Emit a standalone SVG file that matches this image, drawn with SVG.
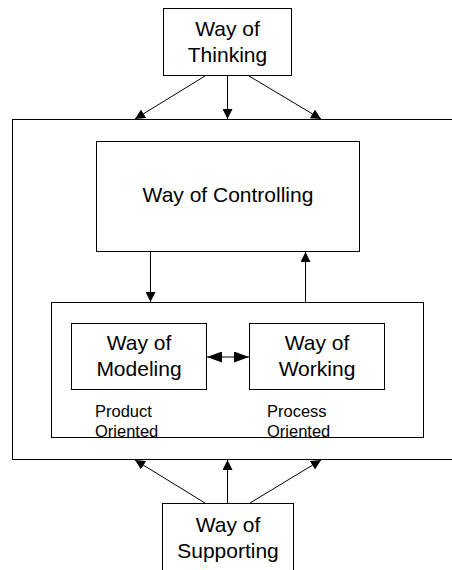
<svg xmlns="http://www.w3.org/2000/svg" width="452" height="570" viewBox="0 0 452 570">
<style>
.box{fill:#fff;stroke:#000;stroke-width:1}
.t{font-family:"Liberation Sans",Arial,sans-serif;font-size:21px;fill:#000;text-anchor:middle}
.s{font-family:"Liberation Sans",Arial,sans-serif;font-size:16.5px;fill:#000}
.c{stroke:#000;stroke-width:1;fill:none}
</style>
<defs>
<marker id="ah" viewBox="0 0 10 10" refX="10" refY="5" markerWidth="10" markerHeight="10" markerUnits="userSpaceOnUse" orient="auto-start-reverse">
<path d="M0,0 L10,5 L0,10 z" fill="#000"/>
</marker>
<marker id="ah2" viewBox="0 0 15 11" refX="15" refY="5.5" markerWidth="15" markerHeight="11" markerUnits="userSpaceOnUse" orient="auto-start-reverse">
<path d="M0,0 L15,5.5 L0,11 z" fill="#000"/>
</marker>
</defs>
<rect x="0" y="0" width="452" height="570" fill="#fff"/>
<g id="outer"><rect class="box" x="12.5" y="119.5" width="460" height="340"/></g>
<g id="thinking"><rect class="box" x="163.5" y="8.5" width="128" height="67"/>
<text class="t" x="227.5" y="36">Way of</text><text class="t" x="227.5" y="62">Thinking</text></g>
<g id="controlling"><rect class="box" x="96.5" y="141.5" width="263" height="110"/>
<text class="t" x="228" y="202">Way of Controlling</text></g>
<g id="inner"><rect class="box" x="51.5" y="302.5" width="372" height="135"/></g>
<g id="modeling"><rect class="box" x="71.5" y="323.5" width="135" height="66"/>
<text class="t" x="139" y="350">Way of</text><text class="t" x="139" y="376">Modeling</text></g>
<g id="working"><rect class="box" x="249.5" y="323.5" width="135" height="66"/>
<text class="t" x="317" y="350">Way of</text><text class="t" x="317" y="376">Working</text></g>
<g id="labels">
<text class="s" x="95" y="417">Product</text><text class="s" x="95" y="437">Oriented</text>
<text class="s" x="267" y="417">Process</text><text class="s" x="267" y="437">Oriented</text>
</g>
<g id="supporting"><rect class="box" x="162.5" y="503.5" width="131" height="80"/>
<text class="t" x="228" y="532">Way of</text><text class="t" x="228" y="558">Supporting</text></g>
<g id="connectors">
<line class="c" x1="205" y1="76" x2="135" y2="119" marker-end="url(#ah)"/>
<line class="c" x1="227.5" y1="76" x2="227.5" y2="119" marker-end="url(#ah)"/>
<line class="c" x1="249" y1="76" x2="321" y2="119" marker-end="url(#ah)"/>
<line class="c" x1="150.5" y1="252" x2="150.5" y2="302" marker-end="url(#ah)"/>
<line class="c" x1="305.5" y1="302" x2="305.5" y2="252" marker-end="url(#ah)"/>
<line class="c" x1="207" y1="357" x2="249" y2="357" marker-start="url(#ah2)" marker-end="url(#ah2)"/>
<line class="c" x1="205" y1="503" x2="135" y2="460" marker-end="url(#ah)"/>
<line class="c" x1="227.5" y1="503" x2="227.5" y2="460" marker-end="url(#ah)"/>
<line class="c" x1="250" y1="503" x2="321" y2="460" marker-end="url(#ah)"/>
</g>
</svg>
